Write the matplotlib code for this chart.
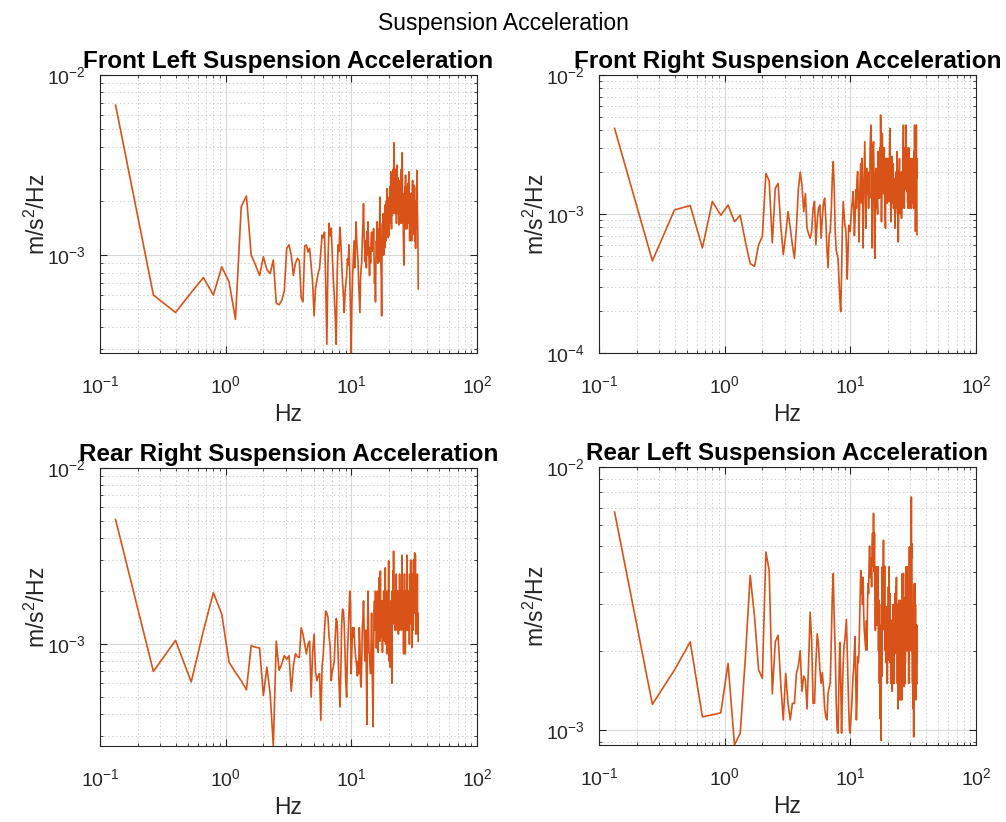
import numpy as np
import matplotlib
matplotlib.use('Agg')
import matplotlib.pyplot as plt
from matplotlib.ticker import LogLocator, NullFormatter

plt.rcParams['font.family'] = ['Liberation Sans', 'DejaVu Sans']
plt.rcParams['mathtext.default'] = 'regular'
plt.rcParams['axes.unicode_minus'] = False

# FFT bin spacing and number of bins
bin_hz = 0.133
n_bins = 256
freq = bin_hz * np.arange(1, n_bins + 1)

# PSD values, units of 1e-5 (m/s^2)/Hz
front_left = [
    680, 60, 48, 62, 75, 60, 86, 71, 44, 186, 213, 100, 88, 77, 98, 83,
    79, 94, 54, 53, 56, 63, 109, 114, 100, 77, 90, 96, 93, 58, 55, 112,
    114, 104, 109, 88, 70, 46, 65, 72, 80, 84, 105, 129, 125, 134, 70, 32,
    90, 150, 128, 141, 100, 74, 60, 45, 32, 80, 114, 105, 143, 120, 90, 71,
    60, 48, 62, 70, 77, 95, 88, 114, 80, 50, 28.6, 55, 77, 96, 120, 85,
    110, 153, 120, 105, 92, 70, 58, 48, 75, 85, 92, 125, 150, 193, 130, 110,
    92, 120, 85, 135, 100, 153, 118, 95, 77, 110, 90, 120, 134, 105, 120, 109,
    140, 95, 70, 85, 55, 95, 120, 100, 153, 90, 140, 105, 92, 130, 210, 120,
    95, 75, 46, 110, 150, 100, 170, 100, 119, 160, 110, 190, 166, 120, 200, 130,
    234, 150, 190, 125, 200, 129, 210, 150, 240, 160, 290, 180, 140, 230, 166, 260,
    170, 300, 200, 420, 230, 180, 280, 170, 197, 300, 210, 150, 260, 316, 190, 270,
    170, 250, 180, 147, 230, 160, 260, 190, 255, 150, 230, 300, 180, 260, 370, 210,
    150, 220, 130, 110, 88, 150, 210, 140, 240, 170, 278, 180, 140, 240, 170, 140,
    181, 230, 150, 250, 170, 230, 150, 290, 190, 150, 120, 200, 140, 129, 180, 220,
    140, 200, 120, 190, 166, 220, 260, 160, 230, 150, 210, 245, 160, 130, 200, 140,
    120, 170, 130, 109, 150, 200, 140, 240, 170, 260, 295, 190, 160, 130, 110, 65,
]

front_right = [
    413, 46, 107, 115, 57, 123, 98, 116, 88, 98, 63, 44, 42, 60, 69, 196,
    173, 62, 153, 166, 83, 51, 71, 104, 80, 60, 48, 80, 150, 200, 162, 104,
    140, 79, 72, 67, 75, 110, 123, 60, 90, 110, 116, 67, 95, 120, 130, 90,
    55, 41, 70, 75, 104, 180, 238, 150, 75, 55, 51, 48, 35, 25, 19.8, 36,
    80, 123, 100, 83, 79, 60, 34, 50, 83, 80, 75, 90, 110, 123, 145, 110,
    70, 90, 150, 110, 180, 202, 130, 63, 110, 180, 230, 120, 251, 150, 57, 130,
    200, 331, 150, 79, 180, 213, 140, 170, 110, 200, 130, 300, 380, 436, 200, 57,
    150, 300, 331, 200, 60, 48, 150, 213, 110, 191, 120, 100, 281, 140, 200, 130,
    300, 150, 515, 200, 88, 150, 380, 180, 300, 140, 171, 300, 130, 110, 79, 150,
    251, 120, 180, 120, 250, 150, 180, 123, 160, 250, 413, 200, 160, 88, 130, 200,
    260, 120, 190, 145, 230, 110, 130, 180, 110, 79, 150, 100, 200, 120, 160, 110,
    281, 150, 200, 120, 63, 100, 140, 200, 250, 120, 171, 100, 162, 130, 200, 93,
    150, 200, 110, 180, 250, 350, 436, 200, 250, 110, 160, 200, 300, 150, 200, 250,
    436, 200, 300, 145, 180, 250, 120, 200, 110, 200, 300, 130, 191, 110, 200, 120,
    170, 120, 250, 160, 191, 110, 150, 200, 251, 130, 180, 140, 230, 120, 160, 110,
    200, 280, 150, 436, 200, 300, 150, 75, 120, 200, 300, 436, 180, 250, 71, 71,
]

rear_right = [
    510, 70, 105, 61, 119, 196, 148, 79, 69, 62, 55, 98, 96, 95, 51, 74,
    52, 26.4, 104, 71, 77, 86, 82, 86, 54, 75, 88, 85, 84, 124, 114, 100,
    88, 100, 104, 50, 90, 114, 70, 62, 66, 68, 37, 75, 88, 120, 154, 150,
    142, 110, 98, 62, 70, 74, 80, 110, 140, 134, 90, 60, 44, 68, 130, 158,
    154, 130, 90, 60, 50, 90, 114, 150, 200, 170, 68, 95, 124, 110, 124, 100,
    88, 80, 74, 66, 80, 68, 124, 100, 60, 57, 80, 125, 140, 176, 120, 88,
    80, 120, 70, 35, 95, 200, 130, 90, 88, 75, 68, 100, 150, 80, 50, 34,
    90, 150, 176, 120, 200, 130, 95, 120, 200, 114, 90, 150, 238, 130, 104, 260,
    130, 176, 110, 160, 90, 176, 130, 200, 150, 104, 140, 271, 100, 180, 120, 88,
    200, 150, 180, 130, 297, 80, 140, 100, 74, 120, 176, 120, 150, 60, 200, 130,
    260, 180, 337, 200, 130, 180, 120, 154, 200, 130, 250, 150, 200, 120, 200, 140,
    176, 114, 150, 200, 120, 250, 150, 200, 130, 150, 200, 120, 150, 320, 160, 200,
    140, 180, 120, 88, 200, 130, 250, 150, 200, 88, 154, 200, 130, 180, 120, 320,
    200, 250, 130, 160, 120, 176, 200, 130, 150, 100, 200, 150, 250, 160, 300, 150,
    200, 130, 150, 96, 140, 250, 150, 176, 120, 200, 300, 200, 150, 240, 160, 330,
    250, 150, 320, 130, 114, 200, 150, 176, 124, 124, 150, 250, 130, 114, 150, 104,
]

rear_left = [
    674, 125, 169, 216, 112, 114, 116, 179, 87.5, 97, 190, 387, 269, 169, 157, 475,
    404, 137, 216, 229, 150, 109, 164, 126, 109, 126, 126, 164, 175, 200, 140, 160,
    155, 120, 180, 280, 220, 126, 126, 180, 232, 210, 170, 150, 165, 145, 120, 112,
    109, 137, 145, 150, 215, 320, 393, 260, 200, 130, 100, 97, 150, 215, 160, 97,
    140, 180, 210, 219, 240, 263, 200, 150, 120, 100, 97, 110, 122, 140, 160, 172,
    200, 226, 160, 109, 130, 190, 180, 195, 250, 320, 404, 330, 380, 300, 380, 280,
    240, 226, 210, 201, 260, 201, 300, 360, 330, 420, 500, 380, 450, 430, 350, 500,
    560, 420, 666, 400, 560, 300, 239, 300, 417, 250, 380, 311, 417, 200, 311, 150,
    250, 110, 180, 91, 300, 160, 417, 250, 350, 526, 300, 240, 420, 200, 294, 180,
    250, 184, 294, 150, 220, 184, 350, 200, 417, 250, 330, 180, 232, 150, 261, 200,
    232, 140, 261, 180, 300, 195, 240, 150, 280, 195, 330, 200, 350, 250, 380, 220,
    300, 150, 280, 120, 250, 150, 311, 200, 260, 130, 311, 200, 250, 130, 300, 180,
    130, 250, 393, 250, 300, 200, 393, 240, 300, 146, 250, 150, 280, 180, 320, 200,
    417, 250, 350, 200, 417, 232, 300, 200, 232, 300, 150, 250, 380, 496, 300, 400,
    496, 280, 350, 200, 500, 769, 450, 510, 300, 200, 150, 300, 200, 120, 250, 94,
    200, 300, 360, 250, 330, 360, 200, 300, 150, 250, 130, 220, 180, 250, 150, 150,
]

titles = ['Front Left Suspension Acceleration', 'Front Right Suspension Acceleration',
          'Rear Right Suspension Acceleration', 'Rear Left Suspension Acceleration']
series = [front_left, front_right, rear_right, rear_left]
y_bottom = [None, 1e-4, None, None]

line_color = '#D95319'
ax_color = '#262626'

fig = plt.figure(figsize=(10.06, 8.22), dpi=100)
fig.suptitle('Suspension Acceleration', y=0.985, fontsize=16.5, color='black')

W, H = 1006, 822
boxes = [(100, 75), (599, 75), (100, 468), (599, 467)]
aw, ah = 377, 278

for i in range(4):
    x0, y0 = boxes[i]
    ax = fig.add_axes([x0 / W, 1 - (y0 + ah) / H, aw / W, ah / H])
    psd = np.array(series[i]) * 1e-5
    ax.plot(freq, psd, color=line_color, lw=1.2)
    ax.set_xscale('log')
    ax.set_yscale('log')
    ax.set_xlim(0.1, 100)
    lo = y_bottom[i] if y_bottom[i] else psd.min()
    ax.set_ylim(lo, 1e-2)

    for a in (ax.xaxis, ax.yaxis):
        a.set_major_locator(LogLocator(base=10))
        a.set_minor_locator(LogLocator(base=10, subs=np.arange(2, 10)))
        a.set_minor_formatter(NullFormatter())

    ax.grid(True, which='major', color='#d8d8d8', lw=0.8, ls='-')
    ax.grid(True, which='minor', color='#cfcfcf', lw=0.7, ls=(0, (1.5, 2.5)))
    ax.set_axisbelow(True)

    ax.tick_params(which='both', direction='in', top=True, right=True,
                   colors=ax_color, labelsize=14, labelcolor=ax_color)
    ax.tick_params(which='major', length=5, width=0.8)
    ax.tick_params(axis='x', which='major', pad=16)
    ax.tick_params(axis='y', which='major', pad=10)
    ax.tick_params(which='minor', length=2.5, width=0.6)
    for s in ax.spines.values():
        s.set_color(ax_color)
        s.set_linewidth(0.8)

    ax.set_title(titles[i], fontsize=17.5, fontweight='bold', pad=5)
    ax.set_xlabel('Hz', fontsize=16.5, color=ax_color, labelpad=4)
    ax.set_ylabel('m/s$^2$/Hz', fontsize=16.5, color=ax_color, labelpad=-2)

fig.savefig('out.png', dpi=100)
